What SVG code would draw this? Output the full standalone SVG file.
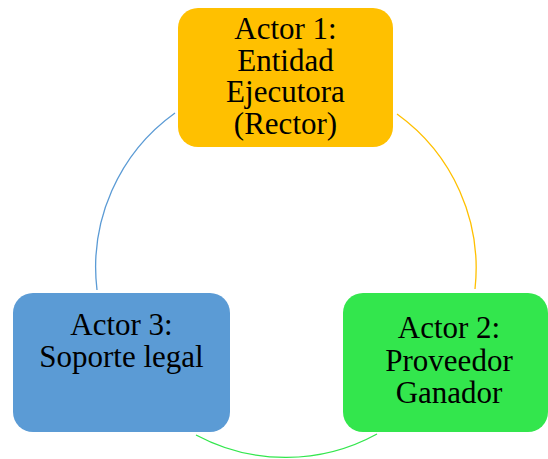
<svg xmlns="http://www.w3.org/2000/svg" width="548" height="459" viewBox="0 0 548 459">
<style>
.lbl{font-family:"Liberation Serif","Times New Roman",serif;font-size:31px;fill:#000;text-anchor:middle}
.arc{fill:none;stroke-width:1.3}
</style>
<rect width="548" height="459" fill="#fff"/>
<g id="connectors">
<path class="arc" stroke="#5B9BD5" d="M175,113 A190,190 0 0 0 97,290"/>
<path class="arc" stroke="#FFC000" d="M397,114 A190,190 0 0 1 475,289"/>
<path class="arc" stroke="#33E64D" d="M196,435 A190,190 0 0 0 377,434"/>
</g>
<g id="actor1">
<rect x="178" y="8" width="215" height="139" rx="20" fill="#FFC000"/>
<text class="lbl" x="285.5" y="39">Actor 1:</text>
<text class="lbl" x="285.5" y="70.5">Entidad</text>
<text class="lbl" x="285.5" y="102">Ejecutora</text>
<text class="lbl" x="285.5" y="133.5">(Rector)</text>
</g>
<g id="actor3">
<rect x="13" y="293" width="217" height="139" rx="20" fill="#5B9BD5"/>
<text class="lbl" x="121.5" y="335">Actor 3:</text>
<text class="lbl" x="121.5" y="367">Soporte legal</text>
</g>
<g id="actor2">
<rect x="343" y="293" width="205" height="139" rx="20" fill="#33E64D"/>
<text class="lbl" x="449" y="338">Actor 2:</text>
<text class="lbl" x="449" y="371">Proveedor</text>
<text class="lbl" x="449" y="403">Ganador</text>
</g>
</svg>
